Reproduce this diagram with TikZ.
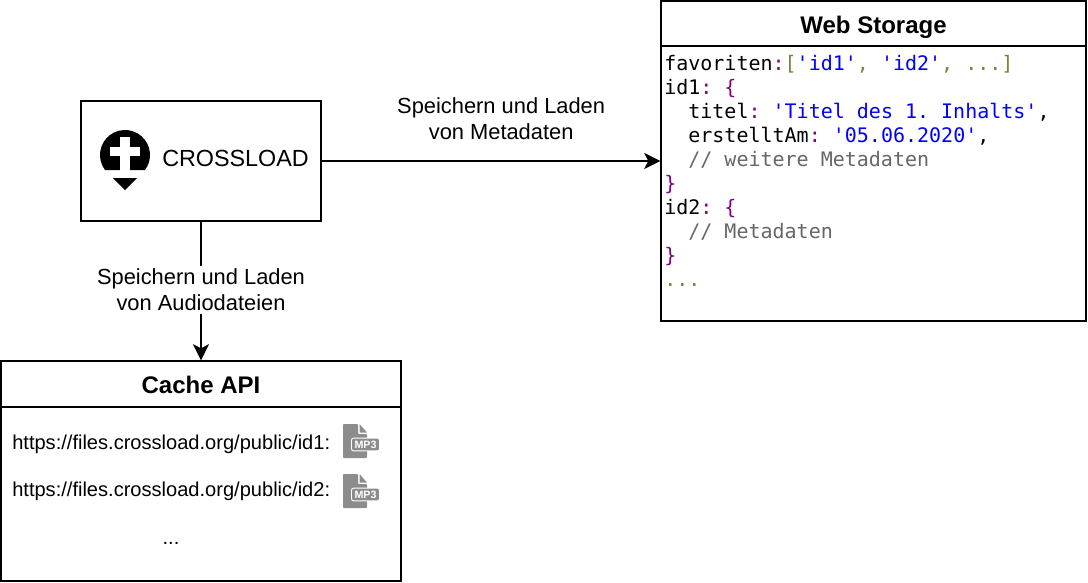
\documentclass[tikz,border=0pt]{standalone}
\usepackage{fontspec}
\setmainfont{Liberation Sans}
\setmonofont{DejaVu Sans Mono}
\usepackage{tikz}
\usetikzlibrary{arrows.meta}
\definecolor{keypurple}{HTML}{800080}
\definecolor{strblue}{HTML}{0000FF}
\definecolor{listolive}{HTML}{808040}
\definecolor{commentgray}{HTML}{666666}
\definecolor{icongray}{HTML}{8C8C8C}
\tikzstyle{appbox} = [rectangle, minimum width=180pt, minimum height=90pt, draw=black, line width=1.1pt, fill=white]
\tikzstyle{webpanel} = [rectangle, minimum width=318.75pt, minimum height=240pt, draw=black, line width=1.1pt]
\tikzstyle{cachepanel} = [rectangle, minimum width=300pt, minimum height=165pt, draw=black, line width=1.1pt]
\tikzstyle{header} = [rectangle, draw=black, line width=1.1pt, font=\bfseries\fontsize{18pt}{20pt}\selectfont, text depth=0pt, anchor=north]
\tikzstyle{arrow} = [line width=1.1pt,-{Stealth[length=12pt, width=12pt, inset=3pt]}]
\tikzstyle{caption} = [align=center, font=\fontsize{16.4pt}{19.5pt}\selectfont]
\tikzstyle{urltext} = [anchor=west, inner sep=0pt, font=\fontsize{15.05pt}{17pt}\selectfont]
\newcommand{\kw}[1]{\textcolor{keypurple}{#1}}
\newcommand{\str}[1]{\textcolor{strblue}{#1}}
\newcommand{\lst}[1]{\textcolor{listolive}{#1}}
\newcommand{\cmt}[1]{\textcolor{commentgray}{#1}}
\tikzset{
  mpicon/.pic={
    \fill [icongray, rounded corners=0.6pt] (0,0) -- (15,0) -- (15,10) -- (24,10) -- (24,34) -- (0,34) -- cycle;
    \fill [icongray] (16.5,0) -- (24,8.5) -- (16.5,8.5) -- cycle;
    \node (mpbadge) [draw=white, line width=0.7pt, fill=icongray, rounded corners=1.5pt, inner sep=0pt, minimum width=21pt, minimum height=9.5pt, text=white, font=\bfseries\fontsize{8pt}{9pt}\selectfont] at (22.5,20.5) {MP3};
  }
}
\begin{document}
\begin{tikzpicture}[x=0.75pt, y=-0.75pt]
    \useasboundingbox (0,0) rectangle (1088,582);
    \node (crossload) [appbox] at (201,161) {};
    % logo
    \fill [black] (105,170) arc [start angle=216.87, end angle=-36.87, radius=18.75pt] -- cycle;
    \fill [white] (120,137) rectangle (130,171);
    \fill [white] (110,147) rectangle (140,156);
    \fill [black] (113,178) -- (137,178) -- (125,190) -- cycle;
    \node (crossloadtext) [anchor=west, inner sep=0pt, font=\fontsize{17.5pt}{20pt}\selectfont] at (162,158) {CROSSLOAD};

    \node (web) [webpanel] at (873.5,161) {};
    \node (webtitle) [header, text height=15pt, minimum width=318.75pt, minimum height=33.75pt] at (web.north) {Web Storage};
    \node (webcode) [anchor=north west, inner sep=0pt, align=left, font=\ttfamily\fontsize{15pt}{18pt}\selectfont] at (664,55) {%
      favoriten\kw{:}\lst{[}\str{'id1'}\lst{, }\str{'id2'}\lst{, ...]}\\
      id1\kw{: \{}\\
      \ \ titel\kw{:} \str{'Titel des 1. Inhalts'},\\
      \ \ erstelltAm\kw{:} \str{'05.06.2020'},\\
      \ \ \cmt{// weitere Metadaten}\\
      \kw{\}}\\
      id2\kw{: \{}\\
      \ \ \cmt{// Metadaten}\\
      \kw{\}}\\
      \lst{...}};

    \node (cache) [cachepanel] at (201,471) {};
    \node (cachetitle) [header, text height=13.5pt, minimum width=300pt, minimum height=34.5pt] at (cache.north) {Cache API};
    \node (urlone) [urltext] at (12,444) {https://files.crossload.org/public/id1:};
    \node (urltwo) [urltext] at (12,491) {https://files.crossload.org/public/id2:};
    \node (urlmore) [urltext, anchor=center] at (171,543) {...};
    \pic (iconone) at (343,424) {mpicon};
    \pic (icontwo) at (343,474) {mpicon};

    \draw [arrow] (crossload) -- node[caption, above, pos=0.53, yshift=12pt]{Speichern und Laden\\von Metadaten} (web);
    \draw [arrow] (crossload) -- node[caption, fill=white, inner sep=2pt, yshift=0.8pt]{Speichern und Laden\\von Audiodateien} (cache);
\end{tikzpicture}
\end{document}
